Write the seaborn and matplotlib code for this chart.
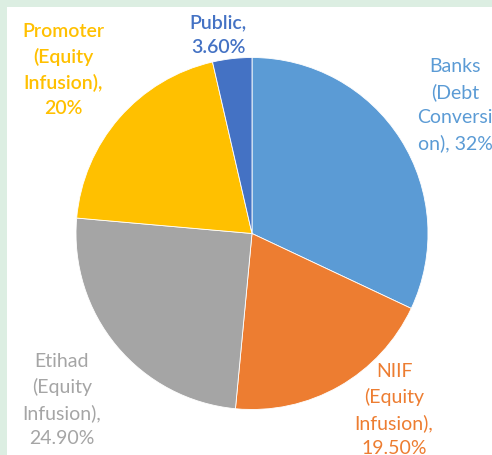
import matplotlib
matplotlib.use("Agg")
import matplotlib.pyplot as plt
import seaborn as sns
from matplotlib.patches import Rectangle

# ---- data ----
categories = ["Banks (Debt Conversion)", "NIIF (Equity Infusion)", "Etihad (Equity Infusion)",
              "Promoter (Equity Infusion)", "Public"]
shares = [32.0, 19.5, 24.9, 20.0, 3.6]
label_texts = ["Banks\n(Debt\nConversi\non), 32%",
               "NIIF\n(Equity\nInfusion),\n19.50%",
               "Etihad\n(Equity\nInfusion),\n24.90%",
               "Promoter\n(Equity\nInfusion),\n20%",
               "Public,\n3.60%"]
colors = ["#5B9BD5", "#ED7D31", "#A5A5A5", "#FFC000", "#4472C4"]
label_weights = ["normal", "normal", "normal", "semibold", "semibold"]

# label block centres in pixel coordinates (layout only)
label_pos_px = [(455, 105), (394, 410), (62, 400), (63, 70), (218, 35)]

sns.set_theme(style="white")
plt.rcParams['font.family'] = ['Lato', 'DejaVu Sans']

W, H, DPI = 492, 456, 100
fig = plt.figure(figsize=(W / DPI, H / DPI), dpi=DPI)
fig.patch.set_facecolor("#DCEEE2")
fig.add_artist(Rectangle((7 / W, 0), 1 - 7 / W, 1 - 8 / H, transform=fig.transFigure,
                         facecolor="white", edgecolor="none", zorder=0))

cx, cy, r = 252, 234.5, 176
ax = fig.add_axes([(cx - r) / W, 1 - (cy + r) / H, 2 * r / W, 2 * r / H])
ax.set_facecolor("none")
pal = sns.color_palette(colors)
ax.pie(shares, colors=pal, startangle=90, counterclock=False, radius=1,
       wedgeprops=dict(edgecolor="white", linewidth=0.6))
ax.set_xlim(-1, 1)
ax.set_ylim(-1, 1)
ax.set_axis_off()

for txt, (px, py), col, wt in zip(label_texts, label_pos_px, colors, label_weights):
    fig.text(px / W, 1 - py / H, txt, ha="center", va="center", color=col,
             fontsize=14, linespacing=1.55, multialignment="center",
             fontweight=wt)

fig.savefig("out.png", dpi=DPI, facecolor=fig.get_facecolor())
